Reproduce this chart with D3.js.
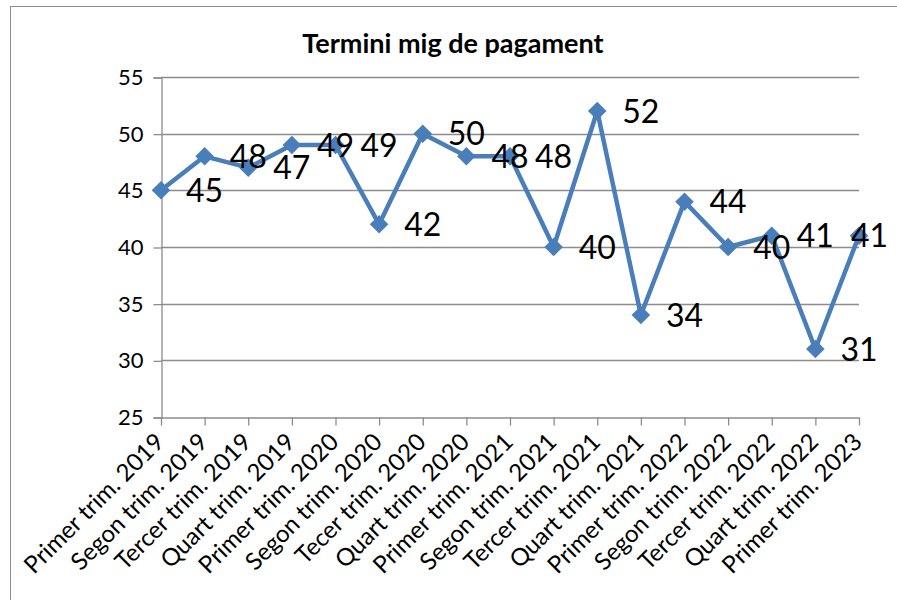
<!DOCTYPE html>
<html>
<head>
<meta charset="utf-8">
<script src="https://cdnjs.cloudflare.com/ajax/libs/d3/7.8.5/d3.min.js"></script>
<style>
  body { margin: 0; background: #fff; }
  svg { display: block; font-family: Lato, "Open Sans", sans-serif; }
</style>
</head>
<body>
<svg id="chart" width="897" height="600"></svg>
<script>
// chart data
var categories = [
    "Primer trim. 2019", "Segon trim. 2019", "Tercer trim. 2019", "Quart trim. 2019",
    "Primer trim. 2020", "Segon trim. 2020", "Tecer trim. 2020", "Quart trim. 2020",
    "Primer trim. 2021", "Segon trim. 2021", "Tercer trim. 2021", "Quart trim. 2021",
    "Primer trim. 2022", "Segon trim. 2022", "Tercer trim. 2022", "Quart trim. 2022",
    "Primer trim. 2023"
];
var values = [45, 48, 47, 49, 49, 42, 50, 48, 48, 40, 52, 34, 44, 40, 41, 31, 41];
var yTicks = [25, 30, 35, 40, 45, 50, 55];
var title = "Termini mig de pagament";

var svg = d3.select("svg");

var plotLeft = 161, plotRight = 859, plotTop = 77, plotBottom = 417;
var lineColor = "#4a7ebb";
var gridColor = "#8c8c8c";

// outer chart frame
svg.append("rect")
    .attr("x", 10.5).attr("y", 6.5)
    .attr("width", 900).attr("height", 600)
    .attr("fill", "none")
    .attr("stroke", gridColor);

svg.append("text")
    .attr("x", 453).attr("y", 53)
    .attr("text-anchor", "middle")
    .style("font-weight", "bold")
    .style("font-size", "27px")
    .text(title);

var x = d3.scalePoint()
    .domain(categories)
    .range([plotLeft, plotRight]);

var y = d3.scaleLinear()
    .domain([25, 55])
    .range([plotBottom, plotTop]);

// gridlines
svg.append("g")
    .selectAll("line")
    .data(yTicks.slice(1))
    .enter().append("line")
    .attr("x1", plotLeft).attr("x2", plotRight)
    .attr("y1", function (d) { return Math.round(y(d)) + 0.5; })
    .attr("y2", function (d) { return Math.round(y(d)) + 0.5; })
    .attr("stroke", gridColor)
    .attr("stroke-width", 1.3);

// y axis
var yAxis = svg.append("g")
    .attr("transform", "translate(" + (plotLeft + 0.5) + ",0.5)")
    .call(d3.axisLeft(y).tickValues(yTicks).tickSize(8).tickPadding(10).tickFormat(d3.format("d")));

// x axis
var xAxis = svg.append("g")
    .attr("transform", "translate(0," + (plotBottom + 0.5) + ")")
    .call(d3.axisBottom(x).tickSize(8).tickSizeOuter(0));

svg.selectAll(".domain, .tick line")
    .attr("stroke", gridColor)
    .attr("stroke-width", 1.3);

yAxis.selectAll("text")
    .style("font-size", "22px")
    .style("font-family", "Lato, sans-serif")
    .attr("fill", "#000");

xAxis.selectAll("text")
    .style("font-size", "24px")
    .style("font-family", "Lato, sans-serif")
    .attr("fill", "#000")
    .attr("text-anchor", "end")
    .attr("x", 0).attr("y", 0).attr("dy", 0)
    .attr("transform", "translate(4,26) rotate(-45)");

// series line
var line = d3.line()
    .x(function (d, i) { return x(categories[i]); })
    .y(function (d) { return y(d); });

svg.append("path")
    .datum(values)
    .attr("fill", "none")
    .attr("stroke", lineColor)
    .attr("stroke-width", 4.5)
    .attr("stroke-linejoin", "round")
    .attr("d", line);

// diamond markers
svg.append("g")
    .selectAll("path")
    .data(values)
    .enter().append("path")
    .attr("transform", function (d, i) {
        return "translate(" + x(categories[i]) + "," + y(d) + ")";
    })
    .attr("d", d3.symbol().type(d3.symbolDiamond2).size(220))
    .attr("fill", lineColor);

// data labels to the right of each point
var labels = svg.append("g")
    .selectAll("text")
    .data(values)
    .enter().append("text")
    .attr("x", function (d, i) { return x(categories[i]) + 25; })
    .attr("y", function (d) { return y(d); })
    .attr("dy", "0.36em")
    .style("font-size", "32px")
    .attr("fill", "#000")
    .text(function (d) { return d; });

// keep labels inside the chart frame
labels.each(function () {
    var w = this.getComputedTextLength();
    var lx = +d3.select(this).attr("x");
    if (lx + w > 888) d3.select(this).attr("x", 888 - w);
});
</script>
</body>
</html>
